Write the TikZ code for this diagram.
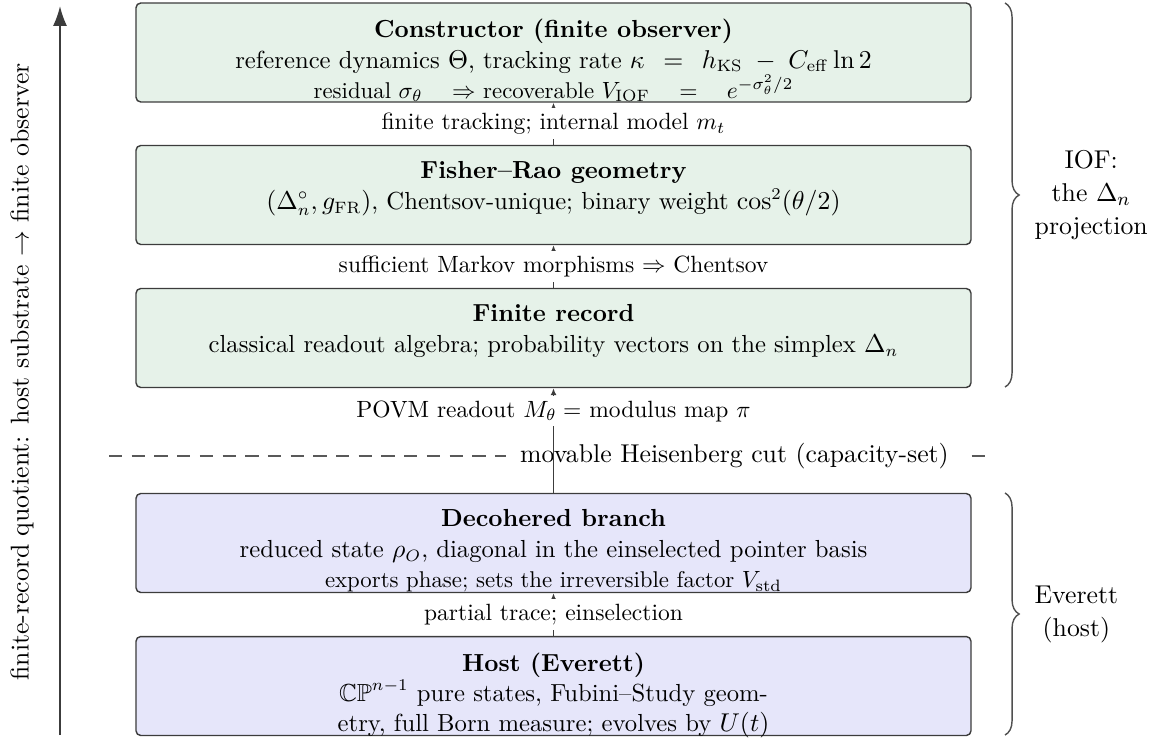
\documentclass[tikz,border=0pt]{standalone}
\usepackage{amsmath,amssymb}
\usetikzlibrary{arrows.meta,decorations.pathreplacing}
\definecolor{gfill}{RGB}{230,242,233}
\definecolor{bfill}{RGB}{230,230,250}
\definecolor{edge}{RGB}{60,60,60}
\newcommand{\boxfont}{\fontsize{10.5}{12.9}\selectfont}
\newcommand{\subfont}{\fontsize{9.7}{11.5}\selectfont}
\newcommand{\sidefont}{\fontsize{10.95}{14}\selectfont}
\begin{document}
\begin{tikzpicture}[x=0.4255pt,y=-0.4255pt,
  box/.style={draw=edge, line width=0.6pt, rounded corners=2pt, minimum width=355.3pt, minimum height=42.1pt, inner sep=0pt},
  gbox/.style={box, fill=gfill},
  bbox/.style={box, fill=bfill},
  txt/.style={anchor=north, align=center, inner sep=0pt, yshift=-7pt, font=\boxfont},
  conn/.style={draw=edge, line width=0.6pt, -{Latex[length=3pt,width=2.6pt]}},
  lab/.style={fill=white, inner sep=2pt},
  cutline/.style={draw=edge!85, line width=0.6pt, dash pattern=on 5.66pt off 4pt},
  brc/.style={decorate, decoration={brace, amplitude=6pt}, draw=edge!90, line width=0.6pt},
  side/.style={anchor=west, xshift=9pt, align=center, font=\sidefont}
]
\useasboundingbox (0,0) rectangle (1167,737);

% boxes
\node[gbox] (b1) at (553.5,52.5) {};
\node[gbox] (b2) at (553.5,195) {};
\node[gbox] (b3) at (553.5,338) {};
\node[bbox] (b4) at (553.5,543) {};
\node[bbox] (b5) at (553.5,686) {};

\node[txt] (t1) at (b1.north) {\textbf{Constructor (finite observer)}\\
reference dynamics $\Theta$, tracking rate $\kappa\;\,=\;\,h_{\mathrm{KS}}\;-\;C_{\mathrm{eff}}\ln 2$\\
{\subfont residual $\sigma_\theta\quad\Rightarrow$ recoverable $V_{\mathrm{IOF}}\quad=\quad e^{-\sigma_\theta^2/2}$}};
\node[txt] (t2) at (b2.north) {\textbf{Fisher--Rao geometry}\\
$(\Delta_n^{\circ},g_{\mathrm{FR}})$, Chentsov-unique; binary weight $\cos^2(\theta/2)$};
\node[txt] (t3) at (b3.north) {\textbf{Finite record}\\
classical readout algebra; probability vectors on the simplex $\Delta_n$};
\node[txt] (t4) at (b4.north) {\textbf{Decohered branch}\\
reduced state $\rho_O$, diagonal in the einselected pointer basis\\
{\subfont exports phase; sets the irreversible factor $V_{\mathrm{std}}$}};
\node[txt] (t5) at (b5.north) {\textbf{Host (Everett)}\\
$\mathbb{CP}^{n-1}$ pure states, Fubini--Study geom-\\
etry, full Born measure; evolves by $U(t)$};

% Heisenberg cut
\coordinate (cutL) at (109,456);
\coordinate (cutR) at (985,456);
\draw[cutline] (cutL) -- node[pos=0.714, fill=white, inner ysep=3pt, inner xsep=6pt, font=\sidefont] (cutlab) {movable Heisenberg cut (capacity-set)} (cutR);

% connectors
\draw[conn] (b2.north) -- node[lab] (l1) {finite tracking; internal model $m_t$} (b1.south);
\draw[conn] (b3.north) -- node[lab] (l2) {sufficient Markov morphisms $\Rightarrow$ Chentsov} (b2.south);
\draw[conn] (b4.north) -- node[lab, pos=0.78] (l3) {POVM readout $M_\theta=$ modulus map $\pi$} (b3.south);
\draw[conn] (b5.north) -- node[lab] (l4) {partial trace; einselection} (b4.south);

% braces
\coordinate (brAt) at (1005,3);
\coordinate (brAb) at (1005,387);
\coordinate (brBt) at (1005,493);
\coordinate (brBb) at (1005,735);
\draw[brc] (brAt) -- node[side, midway] (iof) {IOF:\\the $\Delta_n$\\projection} (brAb);
\draw[brc] (brBt) -- node[side, midway] (ev) {Everett\\(host)} (brBb);

% left axis
\coordinate (axB) at (60,735);
\coordinate (axT) at (60,6);
\draw[draw=edge, line width=0.8pt, -{Latex[length=8.5pt,width=6pt]}] (axB) -- (axT);
\node[rotate=90, font=\fontsize{10.95}{13.6}\selectfont] (axlab) at (22,372) {finite-record quotient: host substrate $\to$ finite observer};
\end{tikzpicture}
\end{document}
